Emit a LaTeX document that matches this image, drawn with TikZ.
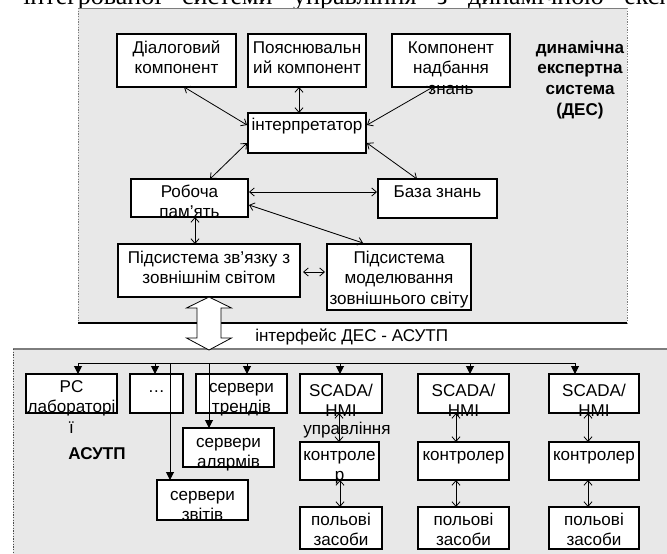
\documentclass[tikz,border=0pt]{standalone}
\usepackage{fontspec}
\setmainfont{Liberation Sans}
\newfontfamily\capfont{Liberation Serif}
\usetikzlibrary{calc,arrows.meta}
\definecolor{bgray}{RGB}{232,232,232}
\definecolor{edgegray}{RGB}{125,125,125}
\newcommand\ml[1]{\begin{tabular}[t]{@{}c@{}}#1\end{tabular}}
\newcommand\mybox[5]{\node[box, anchor=north west, minimum width={(#4-#2)*0.75pt}, minimum height={(#5-#3)*0.75pt}] (#1) at (#2,#3) {};}
\begin{document}
\begin{tikzpicture}[x=0.75pt,y=-0.75pt,
  box/.style={draw=black, line width=0.9pt, fill=white, inner sep=0pt, outer sep=0pt},
  lbl/.style={font=\fontsize{12.8}{15.4}\selectfont, inner sep=0pt, anchor=base},
  blbl/.style={font=\bfseries\fontsize{12.8}{15.5}\selectfont, inner sep=0pt, anchor=base},
  dar/.style={{Straight Barb[length=3.5pt,width=6pt]}-{Straight Barb[length=3.5pt,width=6pt]}, line width=0.6pt},
  busarr/.style={-{Triangle[length=6pt,width=6pt]}, line width=0.75pt},
  panel/.style={fill=bgray, inner sep=0pt, outer sep=0pt, anchor=north west}]
\useasboundingbox (0,0) rectangle (667,553);
\clip (0,0) rectangle (667,553);
\fill[white] (0,0) rectangle (667,553);

% cut-off caption line
\node[anchor=base west, inner sep=0pt, font=\capfont\fontsize{19.5}{20}\selectfont] (cap) at (23,4.5)
  {\makebox[549pt][s]{інтегрованої системи управління з динамічною експертною}};

% DES panel
\node[panel, minimum width={549*0.75pt}, minimum height={315*0.75pt}] (des) at (78,8) {};
\draw[edgegray, line width=0.7pt] (des.north west) -- (des.north east);
\draw[edgegray, line width=0.7pt, dash pattern=on 1pt off 1pt] (des.north west) -- (des.south west) (des.north east) -- (des.south east);
\draw[black, line width=1.6pt] (des.south west) -- (des.south east);

% ASUTP panel
\node[panel, minimum width={660*0.75pt}, minimum height={210*0.75pt}] (asutp) at (13,349) {};
\draw[edgegray, line width=1pt] (asutp.north west) -- (asutp.north east);
\draw[black!70, line width=0.7pt, dash pattern=on 1pt off 1pt] (asutp.north west) -- (asutp.south west);

% DES boxes
\mybox{dial}{117}{34}{236}{87}
\mybox{poy}{248}{34}{366}{87}
\mybox{komp}{392}{34}{510}{87}
\mybox{interp}{248}{113}{366}{153}
\mybox{rob}{131}{179}{248}{217}
\mybox{baza}{378}{179}{497}{218}
\mybox{pidz}{118}{244}{300}{297}
\mybox{pidm}{327}{244}{471}{310}

% DES arrows
\draw[dar] ($(dial.south west)+(67,0)$) -- ($(interp.north west)+(-1,12)$);
\draw[dar] ($(poy.south west)+(51,0)$) -- ($(interp.north west)+(51,0)$);
\draw[dar] ($(komp.south west)+(41,0)$) -- ($(interp.north east)+(1,12)$);
\draw[dar] ($(interp.north west)+(-1,30)$) -- ($(rob.north west)+(79,0)$);
\draw[dar] ($(interp.north east)+(1,30)$) -- ($(baza.north west)+(39,0)$);
\draw[dar] ($(rob.north east)+(1,13)$) -- ($(baza.north west)+(-1,13)$);
\draw[dar] ($(rob.north east)+(1,26)$) -- ($(pidm.north west)+(36,-1)$);
\draw[dar] ($(rob.south west)+(64,0)$) -- ($(pidz.north west)+(77,0)$);
\draw[dar] ($(pidz.north east)+(3,28)$) -- ($(pidm.north west)+(-2,28)$);

% DES texts
\node[lbl] (dial-t) at (176.5,53) {\ml{Діалоговий\\компонент}};
\node[lbl] (poy-t) at (307,53) {\ml{Пояснювальн\\ий компонент}};
\node[lbl] (komp-t) at (451,53) {\ml{Компонент\\надбання\\знань}};
\node[blbl] (des-t) at (580,53) {\ml{динамічна\\експертна\\система\\(ДЕС)}};
\node[lbl] (interp-t) at (307,130) {інтерпретатор};
\node[lbl] (rob-t) at (189.5,197) {\ml{Робоча\\пам’ять}};
\node[lbl] (baza-t) at (437.5,197) {База знань};
\node[lbl] (pidz-t) at (209,263) {\ml{Підсистема зв’язку з\\зовнішнім світом}};
\node[lbl] (pidm-t) at (399,263) {\ml{Підсистема\\моделювання\\зовнішнього світу}};

% big interface arrow
\draw[fill=white, line width=0.6pt] (pidz.south) -- ++(-22.5,11) -- ++(10.5,0) -- ++(0,30) -- ++(-10.5,0)
  -- ++(22.5,12) -- ++(22.5,-12) -- ++(-10.5,0) -- ++(0,-30) -- ++(10.5,0) -- cycle;
\node[lbl, anchor=base west] (iface) at (255,341) {інтерфейс ДЕС - АСУТП};

% ASUTP boxes
\mybox{pc}{26}{374}{117}{413}
\mybox{dots}{130}{374}{183}{413}
\mybox{trend}{196}{374}{287}{413}
\mybox{sc1}{300}{374}{382}{413}
\mybox{sc2}{418}{374}{509}{413}
\mybox{sc3}{549}{374}{639}{413}
\mybox{alarm}{183}{428}{274}{467}
\mybox{report}{157}{480}{248}{520}
\mybox{k1}{300}{442}{379}{480}
\mybox{k2}{418}{442}{509}{480}
\mybox{k3}{549}{442}{639}{480}
\mybox{p1}{300}{507}{382}{549}
\mybox{p2}{418}{507}{509}{549}
\mybox{p3}{549}{507}{639}{549}

% bus
\coordinate (busy) at (0,363);
\coordinate (tpc) at ($(pc.north west)+(52,0)$);
\coordinate (tdots) at ($(dots.north west)+(25,0)$);
\coordinate (ttrend) at ($(trend.north west)+(51,0)$);
\coordinate (tsc1) at ($(sc1.north west)+(40,0)$);
\coordinate (tsc2) at ($(sc2.north west)+(52,0)$);
\coordinate (tsc3) at ($(sc3.north west)+(26,0)$);
\coordinate (treport) at ($(report.north west)+(13,0)$);
\coordinate (talarm) at ($(alarm.north west)+(26,0)$);
\draw[line width=0.75pt] (tpc |- busy) -- (tsc3 |- busy);
\foreach \t in {tpc,tdots,ttrend,tsc1,tsc2,tsc3,treport,talarm}
  \draw[busarr] (\t |- busy) -- (\t);

% vertical double arrows
\draw[dar] ($(sc1.south west)+(39,0)$) -- ($(k1.north west)+(39,0)$);
\draw[dar] ($(k1.south west)+(40,0)$) -- ($(p1.north west)+(40,0)$);
\draw[dar] ($(sc2.south west)+(38,0)$) -- ($(k2.north west)+(38,0)$);
\draw[dar] ($(k2.south west)+(38,0)$) -- ($(p2.north west)+(38,0)$);
\draw[dar] ($(sc3.south west)+(39,0)$) -- ($(k3.north west)+(39,0)$);
\draw[dar] ($(k3.south west)+(39,0)$) -- ($(p3.north west)+(39,0)$);

% ASUTP texts
\node[lbl] (pc-t) at (71.5,392) {\ml{PC\\лабораторі\\ї}};
\node[lbl] (dots-t) at (156.5,392) {…};
\node[lbl] (trend-t) at (241.5,392) {\ml{сервери\\трендів}};
\node[lbl] (sc1-t) at (341,396) {\ml{SCADA/\\HMI}};
\node[lbl] (sc2-t) at (463.5,396) {\ml{SCADA/\\HMI}};
\node[lbl] (sc3-t) at (594,396) {\ml{SCADA/\\HMI}};
\node[lbl] (alarm-t) at (228.5,447) {\ml{сервери\\алярмів}};
\node[lbl] (report-t) at (202.5,500) {\ml{сервери\\звітів}};
\node[lbl] (k1-t) at (339.5,460) {\ml{контроле\\р}};
\node[lbl] (k2-t) at (463.5,460) {контролер};
\node[lbl] (k3-t) at (594,460) {контролер};
\node[lbl] (p1-t) at (341,525) {\ml{польові\\засоби}};
\node[lbl] (p2-t) at (463.5,525) {\ml{польові\\засоби}};
\node[lbl] (p3-t) at (594,525) {\ml{польові\\засоби}};
\node[lbl] (upr) at (347,434) {управління};
\node[blbl] (asutp-t) at (97,459) {АСУТП};
\end{tikzpicture}
\end{document}
